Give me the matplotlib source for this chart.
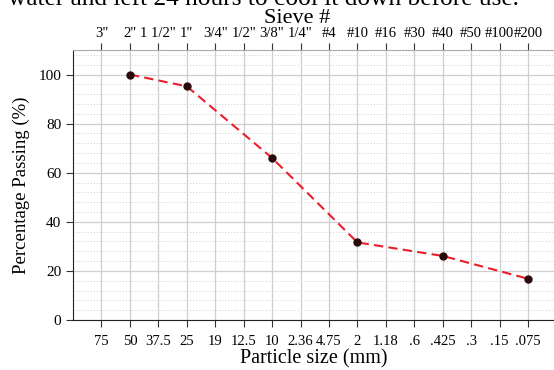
import matplotlib
matplotlib.use("Agg")
import matplotlib.pyplot as plt
from matplotlib.ticker import MultipleLocator

# Data
sieve_names = ['3"', '2"', '1 1/2"', '1"', '3/4"', '1/2"', '3/8"', '1/4"',
               '#4', '#10', '#16', '#30', '#40', '#50', '#100', '#200']
size_labels = ['75', '50', '37.5', '25', '19', '12.5', '10', '2.36',
               '4.75', '2', '1.18', '.6', '.425', '.3', '.15', '.075']
tested_sizes = ['50', '25', '10', '2', '.425', '.075']
percent_passing = [100, 95.2, 66, 31.6, 26.1, 16.8]

plt.rcParams['font.family'] = ['Liberation Serif', 'DejaVu Serif']

fig = plt.figure(figsize=(5.54, 3.70), dpi=100)
ax = fig.add_axes([73/554, 50/370, (554-73)/554, 270/370])

xpos = list(range(len(size_labels)))
px = [size_labels.index(s) for s in tested_sizes]

ax.plot(px, percent_passing, linestyle=(0, (4.5, 2.5)), color='#e8202c', lw=1.5,
        marker='o', markersize=5, markerfacecolor='#2a0a0a',
        markeredgecolor='#2a0a0a', zorder=3)

ax.set_xlim(-1, 15.91)
ax.set_ylim(0, 110)
ax.set_xticks(xpos)
ax.set_xticklabels(size_labels, fontsize=10.5)
ax.set_yticks([0, 20, 40, 60, 80, 100])
ax.tick_params(axis='y', labelsize=11, direction='out', length=5, color='#333333')
ax.tick_params(axis='x', direction='out', length=5, color='#333333', pad=6)
ax.yaxis.set_minor_locator(MultipleLocator(4))
ax.tick_params(axis='y', which='minor', length=0)

ax.grid(True, which='major', color='#cfcfcf', lw=0.9)
ax.grid(True, which='minor', axis='y', color='#cfcfcf', lw=0.7, linestyle=(0, (1, 2)))
ax.set_axisbelow(True)

ax.spines['right'].set_visible(False)
ax.spines['top'].set_color('#aaaaaa')
ax.spines['left'].set_color('#222222')
ax.spines['bottom'].set_color('#222222')

ax.set_ylabel('Percentage Passing (%)', fontsize=13.5, labelpad=6)
ax.set_xlabel('Particle size (mm)', fontsize=14.5, labelpad=1)

top = ax.secondary_xaxis('top')
top.set_xticks(xpos)
top.set_xticklabels(sieve_names, fontsize=10.5)
top.tick_params(direction='out', length=5, color='#333333', pad=2)
top.spines['top'].set_visible(False)

fig.text(0.537, 0.95, 'Sieve #', ha='center', va='center', fontsize=16)
fig.text(0.475, 0.9865, 'water and left 24 hours to cool it down before use.',
         ha='center', va='baseline', fontsize=18.3)

fig.savefig('out.png', dpi=100)
